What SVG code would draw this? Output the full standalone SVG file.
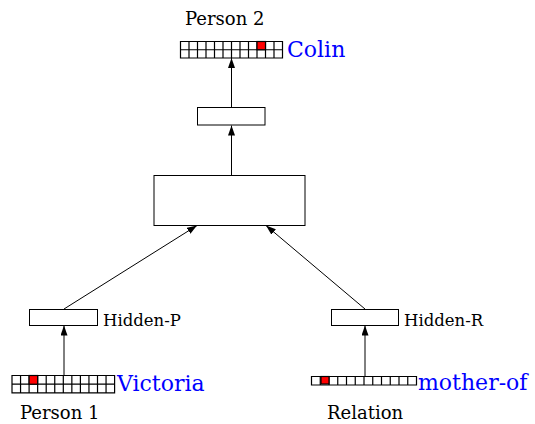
<svg xmlns="http://www.w3.org/2000/svg" width="535" height="424" viewBox="0 0 535 424">
  <defs>
    <marker id="arrow" viewBox="0 0 10 7" refX="10" refY="3.5" markerWidth="10" markerHeight="7" markerUnits="userSpaceOnUse" orient="auto">
      <path d="M0,0 L10,3.5 L0,7 Z" fill="#000"/>
    </marker>
  </defs>
  <style>
    .box { fill: #fff; stroke: #000; stroke-width: 1; }
    .cell { fill: #fff; stroke: #000; stroke-width: 1.2; }
    .on { fill: #f00; stroke: #000; stroke-width: 1.2; }
    .edge { stroke: #000; stroke-width: 1; fill: none; marker-end: url(#arrow); }
    .lbl { font-family: "DejaVu Serif", "Liberation Serif", serif; font-size: 18px; fill: #000; }
    .hid { font-family: "DejaVu Serif", "Liberation Serif", serif; font-size: 16.5px; fill: #000; }
    .val { font-family: "DejaVu Serif", "Liberation Serif", serif; font-size: 22px; fill: #0000ff; }
  </style>

  <rect width="535" height="424" fill="#fff"/>

  <g id="connectors">
    <line class="edge" x1="64" y1="375" x2="64" y2="325.5"/>
    <line class="edge" x1="365" y1="376" x2="365" y2="325.5"/>
    <line class="edge" x1="64" y1="309" x2="197" y2="225.5"/>
    <line class="edge" x1="365" y1="309" x2="266" y2="225.5"/>
    <line class="edge" x1="231.5" y1="175" x2="231.5" y2="125.5"/>
    <line class="edge" x1="231.5" y1="107.5" x2="231.5" y2="58"/>
  </g>

  <g id="person2">
    <text class="lbl" x="185" y="24.5">Person 2</text>
    <g id="person2-grid">
      <path class="cell" d="M180.5,41.5 h102 v16.5 h-102 Z M180.5,49.75 h102 M189,41.5 v16.5 M197.5,41.5 v16.5 M206,41.5 v16.5 M214.5,41.5 v16.5 M223,41.5 v16.5 M231.5,41.5 v16.5 M240,41.5 v16.5 M248.5,41.5 v16.5 M257,41.5 v16.5 M265.5,41.5 v16.5 M274,41.5 v16.5"/>
      <rect class="on" x="257" y="41.5" width="8.5" height="8.25"/>
    </g>
    <text class="val" x="287" y="57">Colin</text>
  </g>

  <g id="output-hidden">
    <rect class="box" x="197.5" y="107.5" width="67.5" height="17.5"/>
  </g>

  <g id="central-hidden">
    <rect class="box" x="154" y="175.5" width="151" height="50"/>
  </g>

  <g id="hidden-p">
    <rect class="box" x="29.5" y="309.5" width="68" height="16"/>
    <text class="hid" x="103" y="325.5">Hidden-P</text>
  </g>

  <g id="hidden-r">
    <rect class="box" x="331.5" y="309.5" width="67" height="16"/>
    <text class="hid" x="404" y="325.5">Hidden-R</text>
  </g>

  <g id="person1">
    <g id="person1-grid">
      <path class="cell" d="M12,375.5 h102.6 v17.4 h-102.6 Z M12,384.2 h102.6 M20.55,375.5 v17.4 M29.1,375.5 v17.4 M37.65,375.5 v17.4 M46.2,375.5 v17.4 M54.75,375.5 v17.4 M63.3,375.5 v17.4 M71.85,375.5 v17.4 M80.4,375.5 v17.4 M88.95,375.5 v17.4 M97.5,375.5 v17.4 M106.05,375.5 v17.4"/>
      <rect class="on" x="29.1" y="375.5" width="8.55" height="8.7"/>
    </g>
    <text class="val" x="117" y="391">Victoria</text>
    <text class="lbl" x="20" y="418.5">Person 1</text>
  </g>

  <g id="relation">
    <g id="relation-grid">
      <path class="cell" d="M311.5,376.5 h105 v8.5 h-105 Z M320.25,376.5 v8.5 M329,376.5 v8.5 M337.75,376.5 v8.5 M346.5,376.5 v8.5 M355.25,376.5 v8.5 M364,376.5 v8.5 M372.75,376.5 v8.5 M381.5,376.5 v8.5 M390.25,376.5 v8.5 M399,376.5 v8.5 M407.75,376.5 v8.5"/>
      <rect class="on" x="321" y="376.5" width="8" height="7.5"/>
    </g>
    <text class="val" x="418" y="390">mother-of</text>
    <text class="lbl" x="327" y="418.5">Relation</text>
  </g>
</svg>
